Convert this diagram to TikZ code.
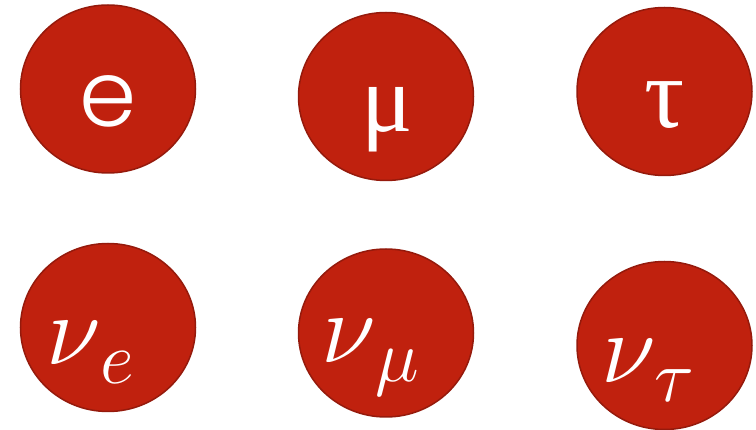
\RequirePackage{fix-cm}
\documentclass[tikz,border=0pt]{standalone}
\usepackage{fontspec}
\newfontfamily\lepsans{Poppins Light}
\newfontfamily\lepserif{Liberation Serif}
\usetikzlibrary{shapes.geometric}
\definecolor{lepfill}{HTML}{C0210E}
\definecolor{lepedge}{HTML}{951A0C}
\newcommand{\lepsub}[2]{{\fontsize{100}{100}\selectfont$#1$}\kern-1pt\raisebox{-19pt}{\fontsize{74}{74}\selectfont$#2$}}
\tikzset{
  lepton/.style={ellipse, fill=lepfill, draw=lepedge, line width=1.5pt,
    minimum width=175pt, minimum height=168pt, inner sep=0pt},
  lab/.style={text=white, inner sep=0pt, anchor=base}
}
\begin{document}
\begin{tikzpicture}[x=1pt, y=-1pt]
\useasboundingbox (0,0) rectangle (756,430);
\node[lepton] (c1) at (108,89) {};
\node[lepton] (c2) at (386,96.5) {};
\node[lepton] (c3) at (664.5,91.5) {};
\node[lepton] (c4) at (108,327.5) {};
\node[lepton] (c5) at (386,333) {};
\node[lepton] (c6) at (664.5,345.5) {};
\node[lab] (t1) at (108,127) {\fontsize{92}{92}\selectfont\lepsans e};
\node[lab] (t2) at (387,132) {\fontsize{96}{96}\selectfont\lepserif μ};
\node[lab] (t3) at (665,128) {\fontsize{100}{100}\selectfont\lepserif τ};
\node[lab] (t4) at (90,365) {\lepsub{\nu}{e}};
\node[lab] (t5) at (370,363) {\lepsub{\nu}{\mu}};
\node[lab] (t6) at (648,383) {\lepsub{\nu}{\tau}};
\end{tikzpicture}
\end{document}
